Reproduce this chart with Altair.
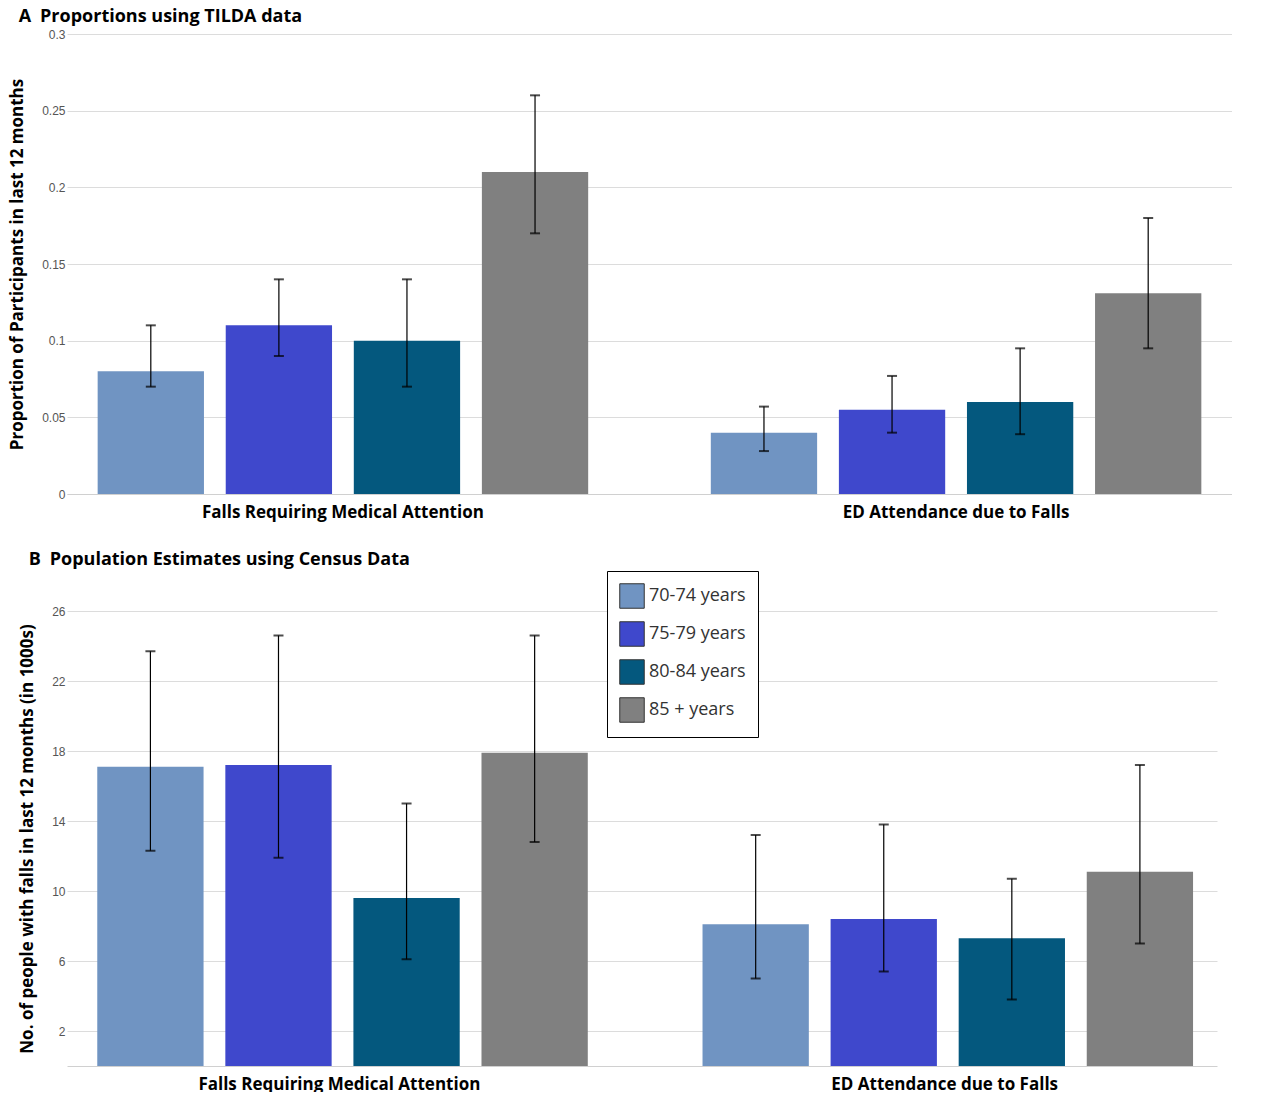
import altair as alt
import pandas as pd

groups = ["Falls Requiring Medical Attention", "ED Attendance due to Falls"]
ages = ["70-74 years", "75-79 years", "80-84 years", "85 + years"]
colors = ["#7094c2", "#3f48cc", "#04587e", "#808080"]

a_val = [0.08, 0.11, 0.10, 0.21, 0.04, 0.055, 0.06, 0.131]
a_lo = [0.07, 0.09, 0.07, 0.17, 0.028, 0.04, 0.039, 0.095]
a_hi = [0.11, 0.14, 0.14, 0.26, 0.057, 0.077, 0.095, 0.18]

b_val = [17.1, 17.2, 9.6, 17.9, 8.1, 8.4, 7.3, 11.1]
b_lo = [12.3, 11.9, 6.1, 12.8, 5.0, 5.4, 3.8, 7.0]
b_hi = [23.7, 24.6, 15.0, 24.6, 13.2, 13.8, 10.7, 17.2]

rows_g = [g for g in groups for _ in ages]
rows_a = ages * 2


def panel(vals, lo, hi, title, ytitle, ymax, ticks, fmt, width, height, legend):
    df = pd.DataFrame({"group": rows_g, "age": rows_a, "v": vals, "lo": lo, "hi": hi})
    x = alt.X("group:N", sort=groups, title=None,
              scale=alt.Scale(paddingInner=0.2, paddingOuter=0.05),
              axis=alt.Axis(labelFontSize=17, labelFontWeight="bold", labelColor="black",
                            labelAngle=0, ticks=False, domainColor="#d0d0d0", labelPadding=10,
                            labelFont="Open Sans", labelLimit=0))
    xo = alt.XOffset("age:N", sort=ages, scale=alt.Scale(paddingInner=0.17))
    if legend:
        leg = alt.Legend(title=None, orient="none", legendX=540, legendY=-40,
                         labelFontSize=18, labelColor="#333", symbolType="square",
                         symbolSize=600, symbolStrokeColor="#333", symbolStrokeWidth=1,
                         strokeColor="black", padding=12, rowPadding=8,
                         labelFont="Open Sans", fillColor="white")
        color = alt.Color("age:N", sort=ages, scale=alt.Scale(domain=ages, range=colors), legend=leg)
    else:
        color = alt.Color("age:N", sort=ages, scale=alt.Scale(domain=ages, range=colors), legend=None)
    base = alt.Chart(df)
    bars = base.mark_bar().encode(
        x=x, xOffset=xo, color=color,
        y=alt.Y("v:Q", title=ytitle, scale=alt.Scale(domain=[0, ymax], nice=False),
                axis=alt.Axis(values=ticks, format=fmt, labelFontSize=12, labelColor="#555",
                              domain=False, ticks=False, gridColor="#dcdcdc", labelOverlap=False,
                              titleFontSize=17, titleFontWeight="bold", titleColor="black",
                              titleFont="Open Sans", titlePadding=15)))
    rule = base.mark_rule(color="black", strokeWidth=1.2).encode(
        x=x, xOffset=xo, y="lo:Q", y2="hi:Q")
    cap_lo = base.mark_tick(color="black", size=10, thickness=2, orient="horizontal").encode(
        x=x, xOffset=xo, y="lo:Q")
    cap_hi = base.mark_tick(color="black", size=10, thickness=2, orient="horizontal").encode(
        x=x, xOffset=xo, y="hi:Q")
    return alt.layer(bars, rule, cap_lo, cap_hi).properties(
        width=width, height=height,
        title=alt.TitleParams(title, anchor="start", fontSize=18, fontWeight="bold",
                              font="Open Sans", color="black", offset=2, dx=10))


pa = panel(a_val, a_lo, a_hi, "A\u2002Proportions using TILDA data",
           "Proportion of Participants in last 12 months", 0.3,
           [0, 0.05, 0.1, 0.15, 0.2, 0.25, 0.3], "~g", 1165, 460, False)
pb = panel(b_val, b_lo, b_hi, "B\u2002Population Estimates using Census Data",
           "No. of people with falls in last 12 months (in 1000s)", 26,
           list(range(2, 27, 2)), "d", 1150, 455, True)

chart = (alt.vconcat(pa, pb, spacing=30)
         .resolve_scale(color="independent")
         .resolve_legend(color="independent")
         .properties(padding=0)
         .configure_view(stroke=None))
chart.save("out.html", embed_options={"renderer": "svg", "actions": False})
